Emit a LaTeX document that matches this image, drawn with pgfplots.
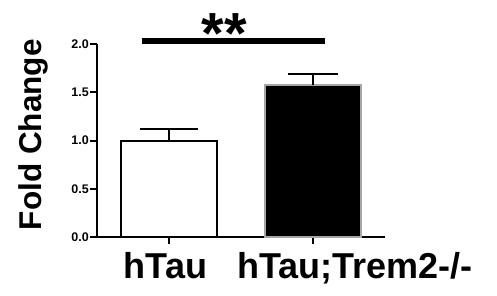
\documentclass[border=0pt]{standalone}
\usepackage{pgfplots}
\pgfplotsset{compat=1.18}
\usepackage{fontspec}
\setmainfont{Liberation Sans}
\begin{document}
\begin{tikzpicture}
\path[use as bounding box] (-97pt,-58pt) rectangle (400pt,237pt);
\begin{axis}[
  at={(0pt,0pt)}, anchor=south west,
  scale only axis, width=288pt, height=193pt,
  xmin=-0.5, xmax=1.5, ymin=0, ymax=2,
  axis x line=bottom, axis y line=left,
  axis line style={-, line width=2pt},
  clip=false,
  xtick={0,1}, xticklabels={},
  ytick={0,0.5,1,1.5,2},
  tick align=outside, major tick length=7pt,
  tick style={line width=2pt, black},
  yticklabel style={font=\fontsize{12.5}{12.5}\selectfont\bfseries, inner sep=1pt},
  /pgf/number format/assume math mode=true,
  yticklabel={\pgfmathprintnumber[fixed, fixed zerofill, precision=1]{\tick}},
  ylabel={Fold Change},
  ylabel style={font=\fontsize{31.5}{31.5}\selectfont\bfseries, at={(axis description cs:-0.222,0.53)}, anchor=center},
  ybar, bar width=0.66, bar shift=0pt,
]
\addplot[fill=white, draw=black, line width=2pt,
  error bars/.cd, y dir=plus, y explicit,
  error bar style={line width=2pt, black},
  error mark options={line width=2pt, mark size=29pt, rotate=90}]
  coordinates {(0,1.0) +- (0,0.12)};
\addplot[fill=black, draw=black!35, line width=2pt,
  error bars/.cd, y dir=plus, y explicit,
  error bar style={line width=2pt, black},
  error mark options={line width=2pt, mark size=25pt, rotate=90}]
  coordinates {(1,1.57) +- (0,0.12)};
\draw[line width=6.5pt] (axis cs:-0.19,2.03) -- (axis cs:1.08,2.03);
\node[font=\fontsize{58}{58}\selectfont\bfseries, anchor=base, inner sep=0pt] at (axis cs:0.385,1.90) {**};
\node[font=\fontsize{36}{36}\selectfont\bfseries, anchor=base, inner sep=0pt, yshift=-41pt] at (axis cs:-0.024,0) {hTau};
\node[font=\fontsize{36}{36}\selectfont\bfseries, anchor=base, inner sep=0pt, yshift=-41pt] at (axis cs:1.29,0) {hTau;Trem2-/-};
\end{axis}
\end{tikzpicture}
\end{document}
